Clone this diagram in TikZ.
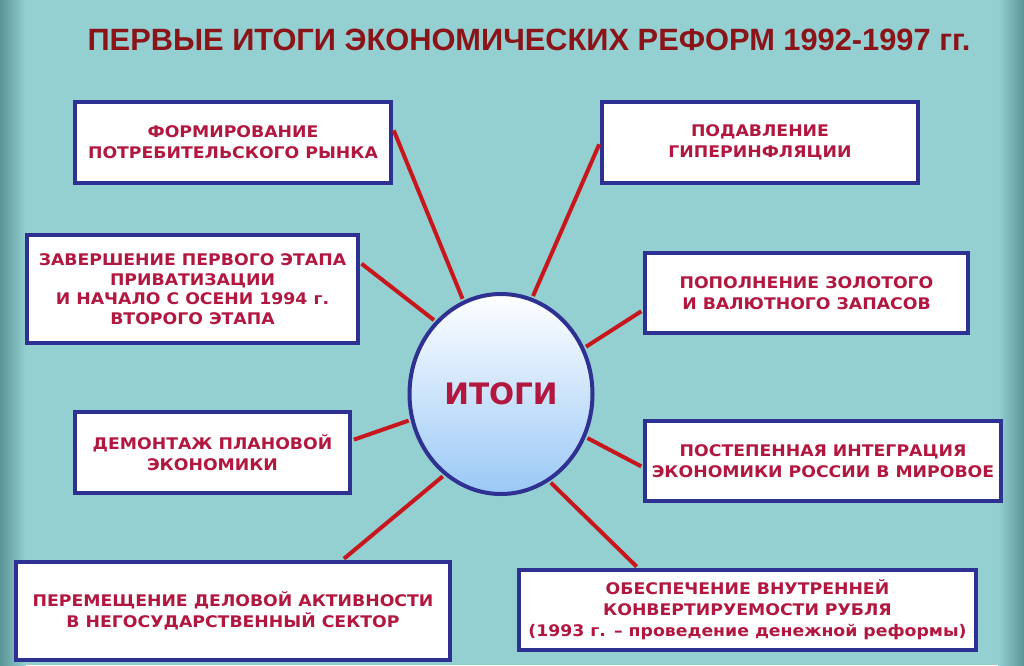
\documentclass[tikz,border=0pt]{standalone}
\usepackage{fontspec}
\setmainfont{DejaVu Sans}
\newfontfamily\boxfont[FakeStretch=1.08]{DejaVu Sans}
\newfontfamily\titlefont{Liberation Sans}
\usetikzlibrary{shapes.geometric, positioning}

\definecolor{bgteal}{HTML}{94CFD1}
\definecolor{bgdark}{HTML}{5C9598}
\definecolor{boxblue}{HTML}{2E3192}
\definecolor{txtred}{HTML}{B2173F}
\definecolor{titlered}{HTML}{8A1418}
\definecolor{linered}{HTML}{C8161D}
\definecolor{ballblue}{HTML}{9AC8F6}

\begin{document}
\begin{tikzpicture}[x=1pt, y=-1pt, thick]
  \tikzstyle{result} = [rectangle, draw=boxblue, line width=4pt, fill=white, align=center, text=txtred, font=\boxfont\bfseries\fontsize{16}{21}\selectfont, inner sep=0pt]
  \tikzstyle{spoke} = [draw=linered, line width=4pt, shorten <=2pt, shorten >=2pt]

  % background
  \fill[bgteal] (0,0) rectangle (1024,665);
  \shade[left color=bgdark, right color=bgteal] (0,0) rectangle (26,665);
  \shade[left color=bgteal, right color=bgdark] (998,0) rectangle (1024,665);
  \useasboundingbox (0,0) rectangle (1024,665);

  \node[text=titlered, font=\titlefont\bfseries\fontsize{30.8}{36}\selectfont] (title) at (529,40) {ПЕРВЫЕ ИТОГИ ЭКОНОМИЧЕСКИХ РЕФОРМ 1992-1997 гг.};

  \node[ellipse, draw=boxblue, line width=4pt, top color=white, bottom color=ballblue, minimum width=183pt, minimum height=200pt, text=txtred, font=\bfseries\fontsize{29.5}{34}\selectfont] (itogi) at (501,394) {ИТОГИ};

  \node[result, minimum width=316pt, minimum height=81pt] (market) at (233,142.5) {ФОРМИРОВАНИЕ\\ПОТРЕБИТЕЛЬСКОГО РЫНКА};
  \node[result, minimum width=316pt, minimum height=81pt] (inflation) at (760,142.5) {ПОДАВЛЕНИЕ\\ГИПЕРИНФЛЯЦИИ};
  \node[result, minimum width=331pt, minimum height=108pt, font=\boxfont\bfseries\fontsize{16}{19.5}\selectfont] (privat) at (192.5,289) {ЗАВЕРШЕНИЕ ПЕРВОГО ЭТАПА\\ПРИВАТИЗАЦИИ\\И НАЧАЛО С ОСЕНИ 1994 г.\\ВТОРОГО ЭТАПА};
  \node[result, minimum width=323pt, minimum height=80pt] (reserve) at (806.5,293) {ПОПОЛНЕНИЕ ЗОЛОТОГО\\И ВАЛЮТНОГО ЗАПАСОВ};
  \node[result, minimum width=275pt, minimum height=81pt] (plan) at (212.5,452.5) {ДЕМОНТАЖ ПЛАНОВОЙ\\ЭКОНОМИКИ};
  \node[result, minimum width=356pt, minimum height=80pt] (world) at (823,461) {ПОСТЕПЕННАЯ ИНТЕГРАЦИЯ\\ЭКОНОМИКИ РОССИИ В МИРОВОЕ};
  \node[result, minimum width=434pt, minimum height=98pt] (sector) at (233,611) {ПЕРЕМЕЩЕНИЕ ДЕЛОВОЙ АКТИВНОСТИ\\В НЕГОСУДАРСТВЕННЫЙ СЕКТОР};
  \node[result, minimum width=457pt, minimum height=80pt] (ruble) at (747.5,610) {ОБЕСПЕЧЕНИЕ ВНУТРЕННЕЙ\\КОНВЕРТИРУЕМОСТИ РУБЛЯ\\(1993 г. – проведение денежной реформы)};

  % spokes
  \draw[spoke] (market.5) -- (itogi.112);
  \draw[spoke] (inflation.west) -- (itogi.72);
  \draw[spoke] (privat.9) -- (itogi.132);
  \draw[spoke] (reserve.186) -- (itogi.29);
  \draw[spoke] (plan.5) -- (itogi.196);
  \draw[spoke] (world.182) -- (itogi.333);
  \draw[spoke] (sector.25) -- (itogi.235);
  \draw[spoke] (ruble.159) -- (itogi.299);
\end{tikzpicture}
\end{document}
